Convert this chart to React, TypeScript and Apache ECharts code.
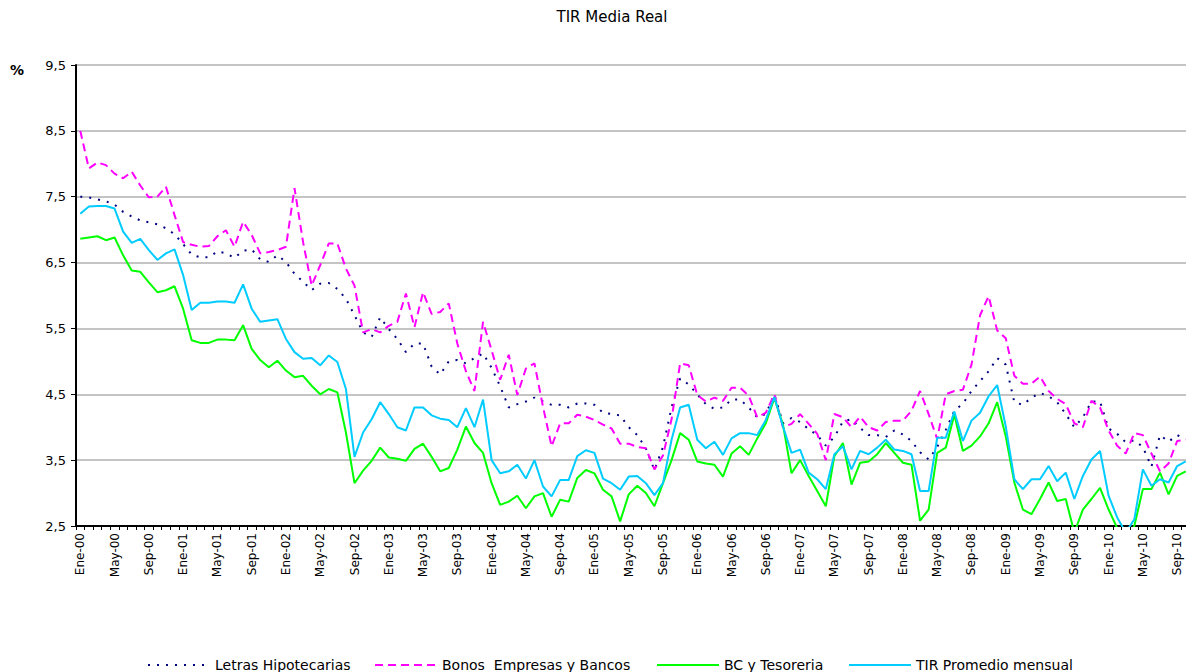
import React, { useEffect, useRef } from "react";
import * as echarts from "echarts";

const MONTHS = ["Ene", "Feb", "Mar", "Abr", "May", "Jun", "Jul", "Ago", "Sep", "Oct", "Nov", "Dic"];
const YEARS = ["00", "01", "02", "03", "04", "05", "06", "07", "08", "09", "10"];
const N_MONTHS = 130;
const categories: string[] = [];
for (const y of YEARS) for (const m of MONTHS) if (categories.length < N_MONTHS) categories.push(`${m}-${y}`);

const yTicks = [2.5, 3.5, 4.5, 5.5, 6.5, 7.5, 8.5, 9.5];

const letras = [
  7.5, 7.49, 7.46, 7.43, 7.38, 7.27, 7.2, 7.14, 7.11, 7.08,
  7.02, 6.93, 6.78, 6.62, 6.58, 6.58, 6.67, 6.64, 6.57, 6.68,
  6.7, 6.55, 6.51, 6.61, 6.51, 6.33, 6.21, 6.08, 6.18, 6.19,
  6.1, 5.95, 5.7, 5.44, 5.37, 5.67, 5.49, 5.34, 5.14,
  5.27, 5.27, 4.92, 4.8, 5.0, 5.02, 4.97, 5.05, 5.12, 4.9,
  4.62, 4.3, 4.35, 4.39, 4.45, 4.39, 4.34, 4.34, 4.3, 4.36,
  4.36, 4.34, 4.22, 4.2, 4.18, 4.0, 3.88, 3.68, 3.35, 3.7,
  4.3, 4.74, 4.65, 4.5, 4.35, 4.28, 4.3, 4.42, 4.42, 4.3,
  4.15, 4.2, 4.5, 4.06, 4.14, 4.08, 3.97, 3.88, 3.72, 3.85,
  4.09, 4.12, 3.99, 3.88, 3.88, 3.85, 3.95, 3.89, 3.79, 3.62,
  3.51, 3.7, 3.96,
  4.25, 4.36,
  4.55, 4.7, 4.85, 5.05, 4.95, 4.38, 4.34, 4.45, 4.52, 4.47,
  4.38, 4.2, 4.0, 4.15, 4.39, 4.39, 3.98, 3.9, 3.77, 3.8,
  3.7, 3.4, 3.88, 3.78, 3.88, 3.82,
];

const bonos = [
  8.5, 7.93, 8.02, 7.98, 7.85, 7.78, 7.88, 7.67, 7.49, 7.5,
  7.65, 7.22, 6.81, 6.77, 6.74, 6.75, 6.9, 6.99, 6.74, 7.12,
  6.92, 6.64, 6.66, 6.69, 6.74, 7.63, 6.81, 6.15, 6.46, 6.79,
  6.79, 6.41, 6.15, 5.44, 5.49, 5.44, 5.54, 5.6, 6.03,
  5.52, 6.05, 5.72, 5.75, 5.88, 5.27, 4.85, 4.55, 5.6, 5.17,
  4.72, 5.1, 4.49, 4.89, 4.97, 4.31, 3.71, 4.06, 4.06, 4.19,
  4.16, 4.11, 4.04, 3.98, 3.75, 3.75, 3.7, 3.68, 3.36, 3.57,
  4.12, 4.97, 4.94, 4.49, 4.39, 4.45, 4.4, 4.6, 4.6, 4.48,
  4.15, 4.22, 4.5, 4.0, 4.05, 4.2, 4.05, 3.9, 3.5, 4.2,
  4.15, 4.0, 4.16, 4.0, 3.95, 4.08, 4.1, 4.1, 4.25, 4.55,
  4.2, 3.82, 4.5,
  4.55, 4.57,
  4.95, 5.7, 5.99, 5.47, 5.35, 4.78, 4.66, 4.66, 4.77, 4.55,
  4.43, 4.35, 4.06, 4.0, 4.4, 4.3, 3.95, 3.72, 3.6, 3.91,
  3.88, 3.6, 3.33, 3.45, 3.79, 3.81,
];

const bcTesoreria = [
  6.86, 6.88, 6.9, 6.84, 6.88, 6.61, 6.38, 6.36, 6.2, 6.05,
  6.08, 6.14, 5.8, 5.32, 5.28, 5.28, 5.33, 5.33, 5.32, 5.55,
  5.19, 5.02, 4.91, 5.01, 4.86, 4.76, 4.78, 4.63, 4.5, 4.58,
  4.53, 3.92, 3.15, 3.34, 3.49, 3.69, 3.54, 3.52, 3.49,
  3.67, 3.75, 3.55, 3.33, 3.38, 3.66, 4.01, 3.76, 3.61, 3.15,
  2.82, 2.87, 2.96, 2.77, 2.95, 3.0, 2.64, 2.9, 2.87, 3.23,
  3.35, 3.3, 3.05, 2.95, 2.57, 2.98, 3.11, 3.0, 2.8, 3.15,
  3.5, 3.91, 3.81, 3.48, 3.45, 3.43, 3.25, 3.6, 3.71, 3.58,
  3.83, 4.06, 4.44, 4.04, 3.3, 3.5, 3.26, 3.03, 2.8, 3.56,
  3.76, 3.13, 3.46, 3.48, 3.59, 3.76, 3.61, 3.46, 3.43, 2.58,
  2.75, 3.61, 3.69,
  4.19, 3.64,
  3.72, 3.86, 4.06, 4.38, 3.86, 3.16, 2.75, 2.68, 2.91, 3.16,
  2.88, 2.91, 2.4, 2.75, 2.91, 3.08, 2.75, 2.47, 2.3, 2.5,
  3.06, 3.06, 3.31, 2.98, 3.26, 3.33,
];

const tirPromedio = [
  7.24, 7.35, 7.36, 7.36, 7.32, 6.97, 6.8, 6.86, 6.69, 6.54,
  6.64, 6.7, 6.31, 5.78, 5.89, 5.89, 5.91, 5.91, 5.89, 6.17,
  5.8, 5.6, 5.62, 5.64, 5.34, 5.14, 5.04, 5.05, 4.94, 5.09,
  4.99, 4.58, 3.55, 3.92, 4.12, 4.38, 4.2, 4.0, 3.95,
  4.3, 4.3, 4.18, 4.13, 4.11, 4.0, 4.29, 4.0, 4.42, 3.5,
  3.3, 3.33, 3.43, 3.22, 3.5, 3.1, 2.95, 3.2, 3.2, 3.56,
  3.65, 3.61, 3.22, 3.15, 3.05, 3.25, 3.26, 3.15, 2.97, 3.15,
  3.81, 4.3, 4.34, 3.81, 3.68, 3.78, 3.58, 3.83, 3.91, 3.91,
  3.88, 4.11, 4.46, 4.01, 3.61, 3.66, 3.31, 3.21, 3.06, 3.59,
  3.71, 3.36, 3.64, 3.59, 3.69, 3.81, 3.66, 3.64, 3.59, 3.03,
  3.03, 3.84, 3.84,
  4.24, 3.79,
  4.1, 4.22, 4.47, 4.64, 4.01, 3.21, 3.06, 3.21, 3.21, 3.41,
  3.18, 3.31, 2.91, 3.26, 3.51, 3.64, 2.96, 2.63, 2.4, 2.6,
  3.36, 3.11, 3.21, 3.16, 3.41, 3.48,
];

const seriesNames = ["Letras Hipotecarias", "Bonos  Empresas y Bancos", "BC y Tesoreria", "TIR Promedio mensual"];
const seriesData = [letras, bonos, bcTesoreria, tirPromedio];
const seriesColors = ["#000080", "#ff00ff", "#00ff00", "#00ccff"];
const seriesDash: any[] = [[2, 7], [8, 5], "solid", "solid"];
const legendLefts = [142, 369, 651, 843];

const FONT = "DejaVu Sans";

export default function App() {
  const ref = useRef<HTMLDivElement>(null);
  useEffect(() => {
    document.documentElement.style.overflow = "hidden";
    document.body.style.overflow = "hidden";
    const chart = echarts.init(ref.current!, undefined, { renderer: "svg" });
    chart.setOption({
      animation: false,
      backgroundColor: "#ffffff",
      grid: { left: 76, right: 2, top: 65, bottom: 146, containLabel: false },
      graphic: [
        {
          type: "text",
          x: 612,
          y: 17,
          style: { text: "TIR Media Real", fill: "#000", font: `15px "${FONT}"`, textAlign: "center", textVerticalAlign: "middle" },
        },
        {
          type: "text",
          x: 10,
          y: 70,
          style: { text: "%", fill: "#000", font: `bold 14px "${FONT}"`, textAlign: "left", textVerticalAlign: "middle" },
        },
      ],
      legend: seriesNames.map((name, i) => ({
        data: [name],
        left: legendLefts[i],
        top: 653,
        itemWidth: 62,
        itemHeight: 14,
        itemGap: 0,
        itemStyle: { opacity: 0 },
        textStyle: { color: "#000", fontSize: 14, fontFamily: FONT },
      })),
      xAxis: {
        type: "category",
        data: categories,
        boundaryGap: true,
        axisLine: { onZero: false, lineStyle: { color: "#000", width: 2 } },
        axisTick: { show: true, interval: 0, length: 4, lineStyle: { color: "#000", width: 1 } },
        axisLabel: { interval: 3, rotate: 90, fontSize: 12, fontFamily: FONT, color: "#000", margin: 7 },
        splitLine: { show: false },
      },
      yAxis: {
        type: "value",
        min: yTicks[0],
        max: yTicks[yTicks.length - 1],
        interval: 1,
        axisLine: { show: true, lineStyle: { color: "#000", width: 2 } },
        axisTick: { show: true, length: 5, lineStyle: { color: "#000", width: 1 } },
        axisLabel: {
          fontSize: 13,
          fontFamily: FONT,
          color: "#000",
          margin: 10,
          formatter: (v: number) => v.toFixed(1).replace(".", ","),
        },
        splitLine: { show: true, lineStyle: { color: "#c4c4c4", width: 2 } },
      },
      series: seriesNames.map((name, i) => ({
        name,
        type: "line",
        data: seriesData[i],
        symbol: "none",
        showSymbol: false,
        smooth: false,
        clip: true,
        color: seriesColors[i],
        lineStyle: { color: seriesColors[i], width: 2, type: seriesDash[i] },
        z: 2 + i,
      })),
    });
    return () => chart.dispose();
  }, []);
  return <div ref={ref} style={{ position: "fixed", left: 0, top: 0, width: 1192, height: 672 }} />;
}
